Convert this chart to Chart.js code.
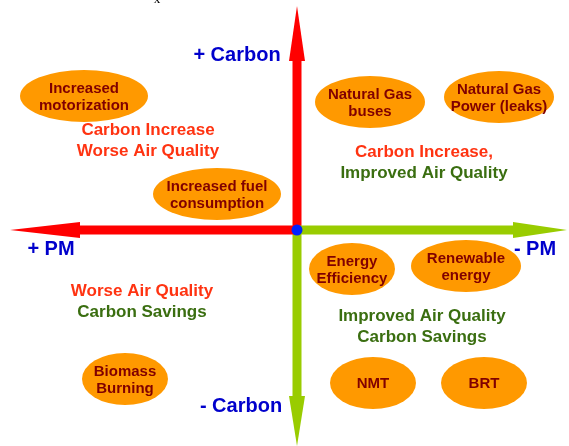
<!DOCTYPE html>
<html>
<head>
<meta charset="utf-8">
<script src="https://cdn.jsdelivr.net/npm/chart.js@4.4.1/dist/chart.umd.min.js"></script>
<style>
  html, body { margin: 0; padding: 0; background: #fff; }
  canvas { display: block; }
</style>
</head>
<body>
<canvas id="quadChart" width="569" height="446"></canvas>
<script>
// measures: x = air quality gain (left = more PM), y = carbon change
const itemLabels = [
  ['Increased', 'motorization'],
  ['Increased fuel', 'consumption'],
  ['Natural Gas', 'buses'],
  ['Natural Gas', 'Power (leaks)'],
  ['Energy', 'Efficiency'],
  ['Renewable', 'energy'],
  ['NMT'],
  ['BRT'],
  ['Biomass', 'Burning']
];
const itemPM = [-213, -80, 73, 202, 55, 169, 76, 187, -172];
const itemCarbon = [134, 36, 128, 133, -39, -36, -153, -153, -149];

// axis ends (arrow tips)
const arrowTipX = [0, 270, 0, -287];
const arrowTipY = [224, 0, -216, 0];
const axisLabels = ['+ Carbon', '- PM', '- Carbon', '+ PM'];
const axisLabelX = [-60, 238, -56, -246];
const axisLabelY = [175, -19, -176, -19];

// quadrant captions
const quadLines = [
  ['Carbon Increase', 'Worse Air Quality'],
  ['Carbon Increase,', 'Improved Air Quality'],
  ['Worse Air Quality', 'Carbon Savings'],
  ['Improved Air Quality', 'Carbon Savings']
];
const quadX = [-149, 127, -155, 125];
const quadY = [89, 67, -72, -97];

// styles
const RED = '#FF0000', GREEN = '#99CC00', BLUE = '#0000CC';
const CAP_RED = '#FF3311', CAP_GREEN = '#3A6E10';
const arrowColors = [RED, GREEN, GREEN, RED];
const headLen = [55, 54, 50, 70];
const bubbleRx = [64, 64, 55, 55, 43, 55, 43, 43, 43];
const bubbleRy = 26;
const quadColors = [[CAP_RED, CAP_RED], [CAP_RED, CAP_GREEN], [CAP_RED, CAP_GREEN], [CAP_GREEN, CAP_GREEN]];
const FONT = '"Liberation Sans", Arial, sans-serif';

function ellipseImage(rx, ry) {
  const c = document.createElement('canvas');
  c.width = rx * 2 + 2;
  c.height = ry * 2 + 2;
  const g = c.getContext('2d');
  g.fillStyle = '#FF9900';
  g.beginPath();
  g.ellipse(rx + 1, ry + 1, rx, ry, 0, 0, Math.PI * 2);
  g.fill();
  return c;
}

const axesPlugin = {
  id: 'axesArrows',
  beforeDatasetsDraw(chart) {
    const ctx = chart.ctx, sx = chart.scales.x, sy = chart.scales.y;
    const ox = sx.getPixelForValue(0), oy = sy.getPixelForValue(0);
    ctx.save();
    arrowTipX.forEach((tx, i) => {
      const px = sx.getPixelForValue(tx), py = sy.getPixelForValue(arrowTipY[i]);
      const len = Math.hypot(px - ox, py - oy);
      const ux = (px - ox) / len, uy = (py - oy) / len;
      const bx = px - ux * headLen[i], by = py - uy * headLen[i];
      ctx.strokeStyle = arrowColors[i];
      ctx.fillStyle = arrowColors[i];
      ctx.lineWidth = 9;
      ctx.beginPath();
      ctx.moveTo(ox, oy);
      ctx.lineTo(bx + ux, by + uy);
      ctx.stroke();
      ctx.beginPath();
      ctx.moveTo(px, py);
      ctx.lineTo(bx - uy * 8, by + ux * 8);
      ctx.lineTo(bx + uy * 8, by - ux * 8);
      ctx.closePath();
      ctx.fill();
    });
    ctx.restore();
  },
  afterDatasetsDraw(chart) {
    const ctx = chart.ctx, sx = chart.scales.x, sy = chart.scales.y;
    ctx.save();
    ctx.textAlign = 'center';
    ctx.textBaseline = 'middle';

    // bubble texts
    const meta = chart.getDatasetMeta(0);
    ctx.font = 'bold 15px ' + FONT;
    ctx.fillStyle = '#800000';
    meta.data.forEach((pt, i) => {
      const lines = itemLabels[i];
      lines.forEach((t, j) => {
        ctx.fillText(t, pt.x, pt.y + 1 + (j - (lines.length - 1) / 2) * 17);
      });
    });

    // quadrant captions
    ctx.font = 'bold 17px ' + FONT;
    quadLines.forEach((lines, i) => {
      const cx = sx.getPixelForValue(quadX[i]), cy = sy.getPixelForValue(quadY[i]);
      lines.forEach((t, j) => {
        ctx.fillStyle = quadColors[i][j];
        ctx.fillText(t, cx, cy + (j - 0.5) * 21);
      });
    });

    // axis labels
    ctx.font = 'bold 20px ' + FONT;
    ctx.fillStyle = BLUE;
    axisLabels.forEach((t, i) => {
      ctx.fillText(t, sx.getPixelForValue(axisLabelX[i]), sy.getPixelForValue(axisLabelY[i]));
    });

    // stray glyph cut off at the top edge
    ctx.font = '13px "Liberation Serif", serif';
    ctx.fillStyle = '#000';
    ctx.textBaseline = 'alphabetic';
    ctx.fillText('x', 157, 3);
    ctx.restore();
  }
};

new Chart(document.getElementById('quadChart'), {
  type: 'scatter',
  data: {
    datasets: [
      {
        label: 'Measures',
        data: itemPM.map((x, i) => ({ x: x, y: itemCarbon[i] })),
        pointStyle: bubbleRx.map(rx => ellipseImage(rx, bubbleRy)),
        pointRadius: 26,
        pointHoverRadius: 26
      },
      {
        label: 'Origin',
        data: [{ x: 0, y: 0 }],
        pointStyle: 'circle',
        pointRadius: 5.5,
        backgroundColor: '#0022FF',
        borderColor: '#0022FF',
        borderWidth: 0
      }
    ]
  },
  options: {
    responsive: false,
    animation: false,
    layout: { padding: 0, autoPadding: false },
    plugins: { legend: { display: false }, tooltip: { enabled: false } },
    scales: {
      x: { type: 'linear', min: -297, max: 272, display: false },
      y: { type: 'linear', min: -216, max: 230, display: false }
    }
  },
  plugins: [axesPlugin]
});
</script>
</body>
</html>
